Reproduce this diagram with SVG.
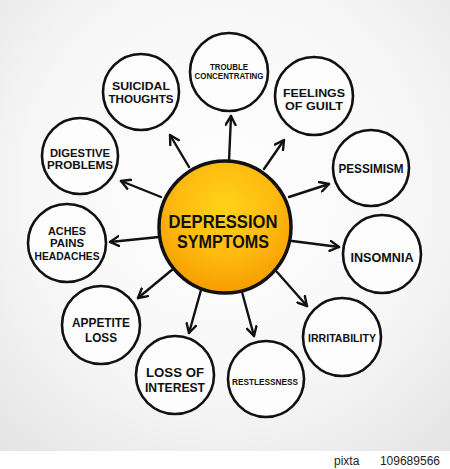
<svg xmlns="http://www.w3.org/2000/svg" width="450" height="469" viewBox="0 0 450 469">
<defs>
<radialGradient id="bg" cx="50%" cy="40%" r="75%">
<stop offset="0" stop-color="#ffffff"/>
<stop offset="0.6" stop-color="#f6f6f6"/>
<stop offset="1" stop-color="#e4e4e4"/>
</radialGradient>
<radialGradient id="sun" cx="50%" cy="35%" r="65%">
<stop offset="0" stop-color="#ffd21a"/>
<stop offset="0.55" stop-color="#ffbb10"/>
<stop offset="1" stop-color="#f59d00"/>
</radialGradient>
<marker id="ah" viewBox="0 0 12 12" refX="10" refY="6" markerWidth="12" markerHeight="12" markerUnits="userSpaceOnUse" orient="auto">
<path d="M1,1 L10,6 L1,11" fill="none" stroke="#111" stroke-width="2.4" stroke-linecap="round" stroke-linejoin="round"/>
</marker>
<style>
.sat{fill:#fdfdfd;stroke:#111;stroke-width:2.6}
.t{font-family:"Liberation Sans",Arial,sans-serif;font-weight:bold;font-size:12.5px;fill:#111;text-anchor:middle}
.m{font-size:11px}
.s{font-size:9px}
.c{fill:none;stroke:#111;stroke-width:2.4;stroke-linecap:round;marker-end:url(#ah)}
</style>
</defs>
<rect width="450" height="469" fill="url(#bg)"/>
<rect y="451" width="450" height="18" fill="#ffffff"/>
<text x="334" y="465" font-family="Liberation Sans,Arial,sans-serif" font-size="12" fill="#222">pixta</text>
<text x="440" y="465" font-family="Liberation Sans,Arial,sans-serif" font-size="12" fill="#222" text-anchor="end">109689566</text>
<g id="connectors">
<line class="c" x1="229" y1="161" x2="231" y2="116"/>
<line class="c" x1="189" y1="167" x2="170" y2="135"/>
<line class="c" x1="264" y1="169" x2="284" y2="140"/>
<line class="c" x1="161" y1="197" x2="121" y2="181"/>
<line class="c" x1="289" y1="197" x2="329" y2="184"/>
<line class="c" x1="159" y1="237" x2="110" y2="242"/>
<line class="c" x1="292" y1="241" x2="339" y2="247"/>
<line class="c" x1="173" y1="269" x2="138" y2="298"/>
<line class="c" x1="277" y1="272" x2="307" y2="306"/>
<line class="c" x1="201" y1="290" x2="189" y2="333"/>
<line class="c" x1="242" y1="292" x2="254" y2="336"/>
</g>
<g id="center">
<circle cx="225" cy="227" r="66" fill="url(#sun)" stroke="#111" stroke-width="3.5"/>
<text class="t" x="223" y="228" textLength="109" lengthAdjust="spacingAndGlyphs" style="font-size:19px">DEPRESSION</text>
<text class="t" x="223" y="248" textLength="92" lengthAdjust="spacingAndGlyphs" style="font-size:19px">SYMPTOMS</text>
</g>
<g id="trouble">
<circle class="sat" cx="229" cy="72" r="39"/>
<text class="t s" x="229" y="70" textLength="38" lengthAdjust="spacingAndGlyphs">TROUBLE</text>
<text class="t s" x="229" y="79" textLength="69" lengthAdjust="spacingAndGlyphs">CONCENTRATING</text>
</g>
<g id="suicidal">
<circle class="sat" cx="141" cy="92" r="38"/>
<text class="t m" x="141" y="90" textLength="58" lengthAdjust="spacingAndGlyphs">SUICIDAL</text>
<text class="t m" x="141" y="103" textLength="65" lengthAdjust="spacingAndGlyphs">THOUGHTS</text>
</g>
<g id="guilt">
<circle class="sat" cx="314" cy="96" r="39"/>
<text class="t m" x="314" y="97" textLength="62" lengthAdjust="spacingAndGlyphs">FEELINGS</text>
<text class="t m" x="314" y="110" textLength="58" lengthAdjust="spacingAndGlyphs">OF GUILT</text>
</g>
<g id="digestive">
<circle class="sat" cx="80" cy="156" r="38"/>
<text class="t m" x="80" y="157" textLength="60" lengthAdjust="spacingAndGlyphs">DIGESTIVE</text>
<text class="t m" x="80" y="169" textLength="66" lengthAdjust="spacingAndGlyphs">PROBLEMS</text>
</g>
<g id="pessimism">
<circle class="sat" cx="371" cy="168" r="38"/>
<text class="t" x="371" y="173" textLength="65" lengthAdjust="spacingAndGlyphs">PESSIMISM</text>
</g>
<g id="aches">
<circle class="sat" cx="67" cy="243" r="39"/>
<text class="t m" x="67" y="235" textLength="38" lengthAdjust="spacingAndGlyphs">ACHES</text>
<text class="t m" x="67" y="247" textLength="34" lengthAdjust="spacingAndGlyphs">PAINS</text>
<text class="t m" x="67" y="260" textLength="65" lengthAdjust="spacingAndGlyphs">HEADACHES</text>
</g>
<g id="insomnia">
<circle class="sat" cx="382" cy="254" r="39"/>
<text class="t" x="382" y="262" textLength="63" lengthAdjust="spacingAndGlyphs">INSOMNIA</text>
</g>
<g id="appetite">
<circle class="sat" cx="101" cy="325" r="39"/>
<text class="t" x="101" y="327" textLength="58" lengthAdjust="spacingAndGlyphs">APPETITE</text>
<text class="t" x="101" y="342" textLength="32" lengthAdjust="spacingAndGlyphs">LOSS</text>
</g>
<g id="irritability">
<circle class="sat" cx="342" cy="337" r="39"/>
<text class="t" x="342" y="342" textLength="68" lengthAdjust="spacingAndGlyphs" style="font-size:11px">IRRITABILITY</text>
</g>
<g id="interest">
<circle class="sat" cx="175" cy="375" r="39"/>
<text class="t" x="175" y="377" textLength="58" lengthAdjust="spacingAndGlyphs">LOSS OF</text>
<text class="t" x="175" y="392" textLength="60" lengthAdjust="spacingAndGlyphs">INTEREST</text>
</g>
<g id="restlessness">
<circle class="sat" cx="266" cy="379" r="38"/>
<text class="t" x="265" y="385" textLength="66" lengthAdjust="spacingAndGlyphs" style="font-size:9.5px">RESTLESSNESS</text>
</g>
</svg>
